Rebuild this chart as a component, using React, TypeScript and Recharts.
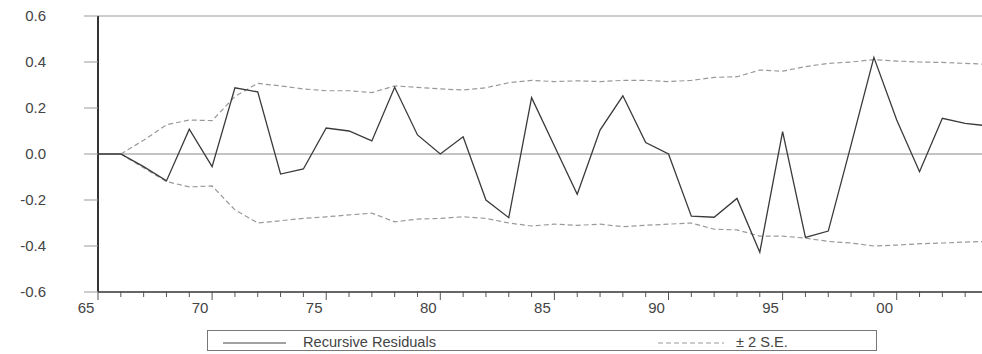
import React from "react"
import { LineChart, Line, XAxis, YAxis, ReferenceLine } from "recharts"

const years = [
  1965, 1966, 1967, 1968, 1969, 1970, 1971, 1972, 1973, 1974,
  1975, 1976, 1977, 1978, 1979, 1980, 1981, 1982, 1983, 1984,
  1985, 1986, 1987, 1988, 1989, 1990, 1991, 1992, 1993, 1994,
  1995, 1996, 1997, 1998, 1999, 2000, 2001, 2002, 2003, 2004,
]

const residuals = [
  0, 0, -0.055, -0.117, 0.108, -0.055, 0.288, 0.27, -0.087, -0.065,
  0.113, 0.1, 0.057, 0.29, 0.083, 0.0, 0.075, -0.2, -0.277, 0.245,
  0.035, -0.175, 0.104, 0.253, 0.05, 0.0, -0.27, -0.275, -0.193, -0.427,
  0.097, -0.363, -0.335, 0.04, 0.42, 0.148, -0.077, 0.155, 0.133, 0.122,
]

const upperBand = [
  null, 0, 0.06, 0.127, 0.148, 0.145, 0.25, 0.307, 0.296, 0.283,
  0.275, 0.275, 0.267, 0.296, 0.29, 0.283, 0.278, 0.288, 0.31, 0.32,
  0.315, 0.318, 0.315, 0.32, 0.32, 0.315, 0.32, 0.333, 0.336, 0.365,
  0.36, 0.38, 0.394, 0.4, 0.41, 0.404, 0.4, 0.398, 0.394, 0.39,
]

const lowerBand = [
  null, 0, -0.06, -0.12, -0.143, -0.139, -0.243, -0.3, -0.29, -0.28,
  -0.273, -0.265, -0.257, -0.295, -0.283, -0.28, -0.273, -0.28, -0.3, -0.313,
  -0.305, -0.31, -0.305, -0.316, -0.31, -0.305, -0.3, -0.327, -0.33, -0.357,
  -0.357, -0.366, -0.38, -0.387, -0.4, -0.396, -0.39, -0.387, -0.383, -0.38,
]

const yTicks = [-0.6, -0.4, -0.2, 0, 0.2, 0.4, 0.6]

const data = years.map((year, i) => ({
  year,
  resid: residuals[i],
  upper: upperBand[i],
  lower: lowerBand[i],
}))

const FONT = "'Liberation Sans', Arial, sans-serif"
const TEXT = "#444"

// every year gets a short tick, every fifth a long one with a two-digit label
function YearTick(props: any) {
  const { x, y, payload } = props
  const v = payload.value as number
  const major = v % 5 === 0
  return (
    <g>
      <line x1={x} x2={x} y1={y - 1} y2={y + (major ? 8 : 5)} stroke="#555" strokeWidth={1} />
      {major && v < 2004 && (
        <text x={x - 12} y={y + 21} textAnchor="middle" fontSize={15} fill={TEXT} fontFamily={FONT}>
          {String(v % 100).padStart(2, "0")}
        </text>
      )}
    </g>
  )
}

function ValueTick(props: any) {
  const { x, y, payload } = props
  return (
    <g>
      <line x1={x - 14} x2={x} y1={y} y2={y} stroke="#999" strokeWidth={1} />
      <text x={x - 52} y={y + 5} textAnchor="end" fontSize={15} fill={TEXT} fontFamily={FONT}>
        {(payload.value as number).toFixed(1)}
      </text>
    </g>
  )
}

function LegendBox() {
  return (
    <div
      style={{
        position: "absolute",
        left: 207,
        top: 330,
        width: 670,
        height: 21,
        border: "1px solid #777",
        boxSizing: "border-box",
        fontFamily: FONT,
        fontSize: 14.6,
        color: TEXT,
        lineHeight: "16px",
      }}
    >
      <svg width={670} height={21} style={{ position: "absolute", left: 0, top: 0 }}>
        <line x1={15} x2={78} y1={12} y2={12} stroke="#444" strokeWidth={1} />
        <line x1={450} x2={516} y1={12} y2={12} stroke="#999" strokeWidth={1} strokeDasharray="5 3" />
      </svg>
      <span style={{ position: "absolute", left: 95, top: 3 }}>Recursive Residuals</span>
      <span style={{ position: "absolute", left: 528, top: 3 }}>± 2 S.E.</span>
    </div>
  )
}

export default function App() {
  return (
    <div style={{ position: "absolute", left: 0, top: 0, width: 982, height: 354, overflow: "hidden", background: "#fff" }}>
      <LineChart width={1000} height={354} data={data} margin={{ top: 16, right: 12, left: 0, bottom: 0 }}>
        <XAxis
          dataKey="year"
          type="number"
          domain={[1965, 2004]}
          ticks={years}
          interval={0}
          tick={<YearTick />}
          tickLine={false}
          tickSize={0}
          tickMargin={0}
          axisLine={{ stroke: "#333", strokeWidth: 1.5 }}
          height={62}
        />
        <YAxis
          type="number"
          domain={[-0.6, 0.6]}
          ticks={yTicks}
          interval={0}
          width={98}
          tick={<ValueTick />}
          tickLine={false}
          tickSize={0}
          tickMargin={0}
          axisLine={{ stroke: "#333", strokeWidth: 2 }}
        />
        <ReferenceLine y={0.6} stroke="#999" strokeWidth={1} />
        <ReferenceLine y={0} stroke="#888" strokeWidth={1} />
        <Line
          dataKey="upper"
          stroke="#999"
          strokeWidth={1.2}
          strokeDasharray="5 3"
          dot={false}
          isAnimationActive={false}
        />
        <Line
          dataKey="lower"
          stroke="#999"
          strokeWidth={1.2}
          strokeDasharray="5 3"
          dot={false}
          isAnimationActive={false}
        />
        <Line
          dataKey="resid"
          stroke="#3a3a3a"
          strokeWidth={1.3}
          dot={false}
          isAnimationActive={false}
        />
      </LineChart>
      <LegendBox />
    </div>
  )
}
